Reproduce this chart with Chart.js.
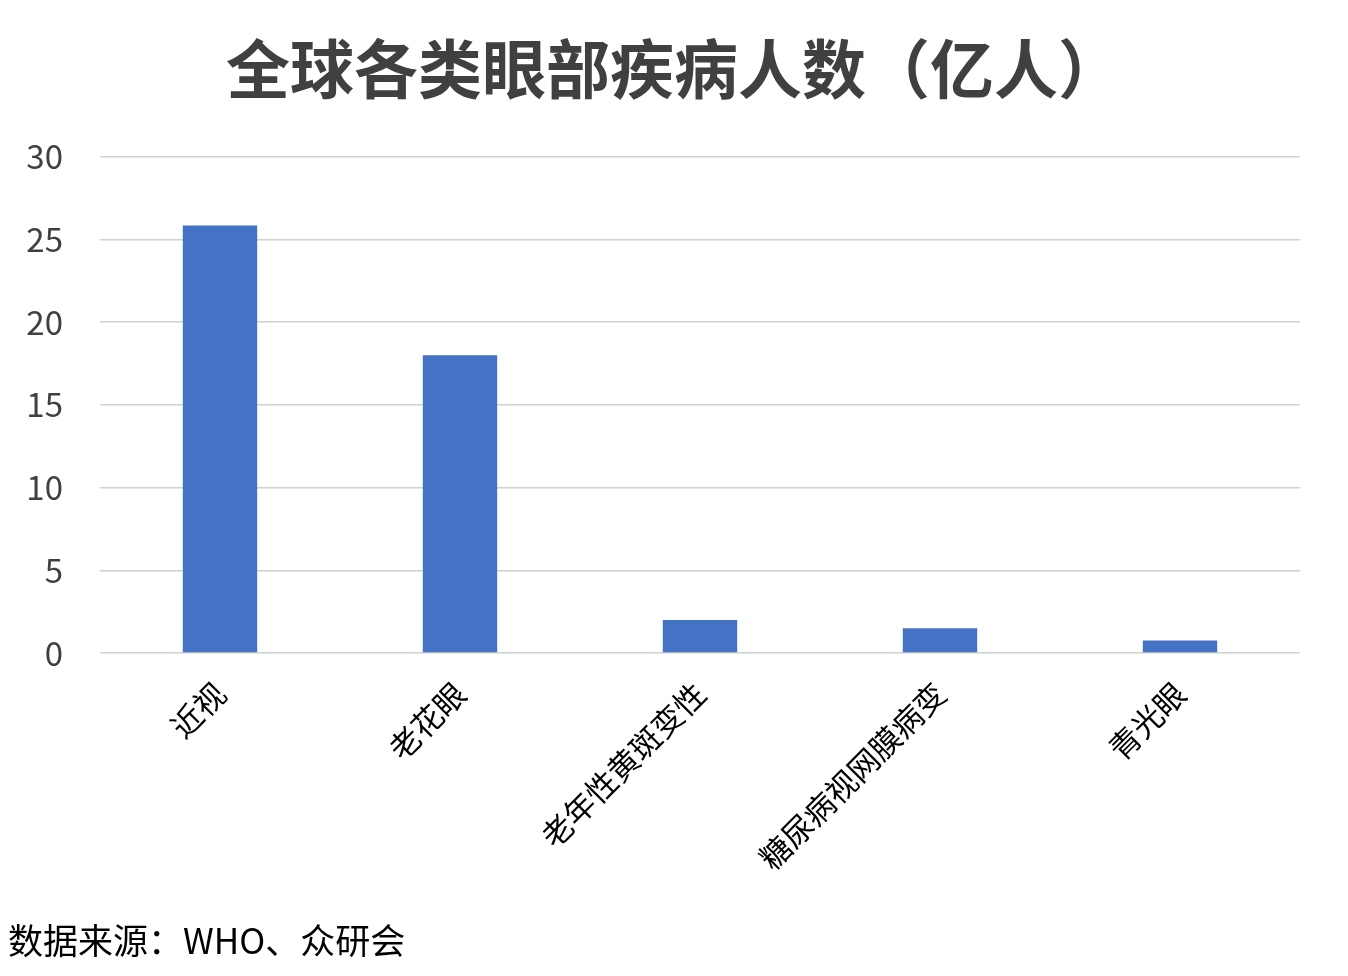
<!DOCTYPE html>
<html lang="zh">
<head>
    <meta charset="UTF-8">
    <title>全球各类眼部疾病人数</title>
    <script src="https://cdn.jsdelivr.net/npm/chart.js@4.4.0/dist/chart.umd.min.js"></script>
    <style>
        html, body { margin: 0; padding: 0; background: #fff; }
        #wrap { position: relative; width: 1348px; height: 976px; }
        #fuente {
            position: absolute; left: 8px; top: 914px;
            font-family: "Noto Sans CJK SC", "Noto Sans", sans-serif;
            font-size: 35px; color: #000; line-height: 50px;
        }
    </style>
</head>
<body>
<div id="wrap">
    <canvas id="chart" width="1348" height="976"></canvas>
    <div id="fuente">数据来源：WHO、众研会</div>
</div>
<script>
    // Datos (亿人)
    const categorias = ['近视', '老花眼', '老年性黄斑变性', '糖尿病视网膜病变', '青光眼'];
    const valores = [25.85, 18, 2, 1.5, 0.75];
    const yTicks = [0, 5, 10, 15, 20, 25, 30];

    const fuente = '"Noto Sans CJK SC", "Noto Sans", sans-serif';

    new Chart(document.getElementById('chart'), {
        type: 'bar',
        data: {
            labels: categorias,
            datasets: [{
                data: valores,
                backgroundColor: '#4472C4',
                barPercentage: 0.31,
                categoryPercentage: 1
            }]
        },
        options: {
            responsive: false,
            animation: false,
            layout: { padding: 0 },
            plugins: {
                legend: { display: false },
                tooltip: { enabled: false },
                title: {
                    display: true,
                    text: '全球各类眼部疾病人数（亿人）',
                    color: '#404040',
                    font: { family: fuente, size: 64, weight: 'bold' },
                    lineHeight: 1.2,
                    padding: { top: 30, bottom: 50 }
                }
            },
            scales: {
                x: {
                    grid: { display: false },
                    border: { display: false },
                    ticks: {
                        color: '#000',
                        font: { family: fuente, size: 31 },
                        minRotation: 45,
                        maxRotation: 45,
                        padding: 14
                    },
                    afterFit: s => { s.height = 323; }
                },
                y: {
                    min: 0,
                    max: 30,
                    afterBuildTicks: s => { s.ticks = yTicks.map(v => ({ value: v })); },
                    grid: { color: '#d0d0d0', lineWidth: 1.5, drawTicks: false },
                    border: { display: false },
                    ticks: {
                        color: '#404040',
                        font: { family: fuente, size: 33 },
                        padding: 37
                    },
                    afterFit: s => { s.width = 100; }
                },
                // eje vacío a la derecha, solo reserva el margen derecho
                yDerecha: {
                    position: 'right',
                    min: 0,
                    max: 30,
                    grid: { drawOnChartArea: false, drawTicks: false },
                    border: { display: false },
                    ticks: { display: false },
                    afterFit: s => { s.width = 48; }
                }
            }
        }
    });
</script>
</body>
</html>
